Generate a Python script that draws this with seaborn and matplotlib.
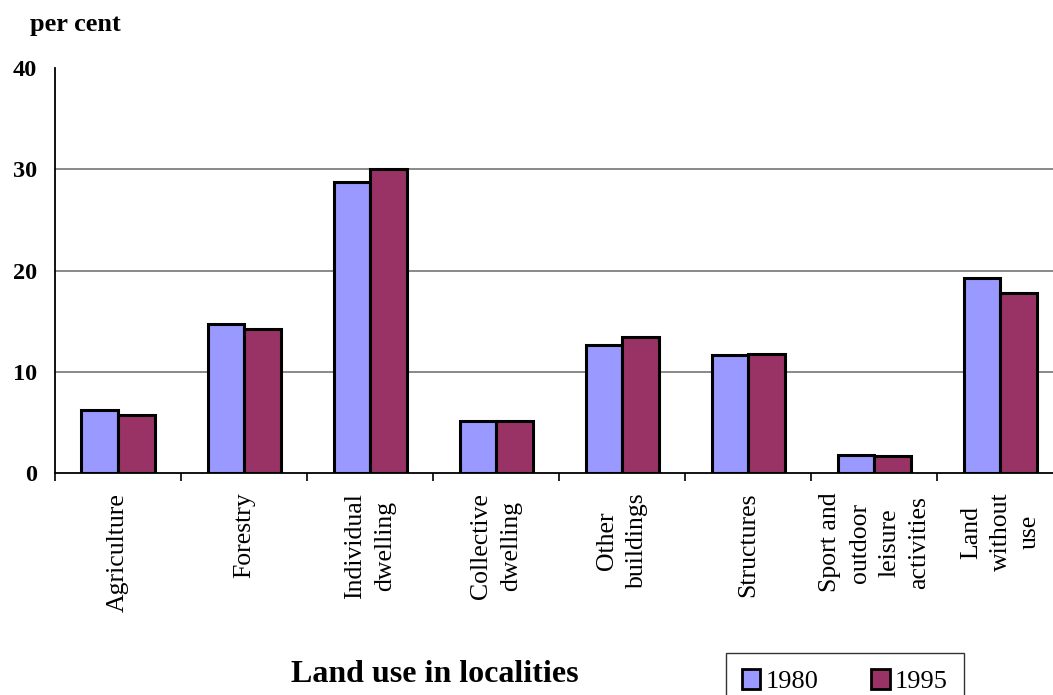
import matplotlib
matplotlib.use("Agg")
import matplotlib.pyplot as plt
import seaborn as sns
import pandas as pd

# Land use in localities, share of total area (per cent)
categories = [
    "Agriculture",
    "Forestry",
    "Individual\ndwelling",
    "Collective\ndwelling",
    "Other\nbuildings",
    "Structures",
    "Sport and\noutdoor\nleisure\nactivities",
    "Land\nwithout\nuse",
]
values_1980 = [6.2, 14.7, 28.7, 5.2, 12.7, 11.7, 1.8, 19.3]
values_1995 = [5.8, 14.2, 30.0, 5.2, 13.5, 11.8, 1.7, 17.8]
years = ["1980", "1995"]
y_ticks = [0, 10, 20, 30, 40]

df = pd.DataFrame({
    "category": categories * 2,
    "year": [years[0]] * len(categories) + [years[1]] * len(categories),
    "value": values_1980 + values_1995,
})

sns.set_theme(style="white")
plt.rcParams["font.family"] = ["Liberation Serif", "DejaVu Serif"]
plt.rcParams["text.color"] = "black"
plt.rcParams["xtick.color"] = "black"
plt.rcParams["ytick.color"] = "black"
plt.rcParams["axes.labelcolor"] = "black"

W, H = 1053, 695
fig = plt.figure(figsize=(W / 100, H / 100), dpi=100)
ax = fig.add_axes([55 / W, (H - 473.3) / H, 1008.5 / W, 405.3 / H])

palette = {"1980": "#9999FF", "1995": "#993366"}
sns.barplot(
    data=df, x="category", y="value", hue="year", order=categories,
    hue_order=years, palette=palette, edgecolor="black", linewidth=2.2,
    width=0.58, gap=0, saturation=1, ax=ax, legend=True,
)
handles, labels = ax.get_legend_handles_labels()
ax.get_legend().remove()

ax.set_xlim(-0.5, len(categories) - 0.5)
ax.set_ylim(0, 40)
ax.set_xlabel("")
ax.set_ylabel("")

# y axis: bold tick labels, grid at inner ticks only
ax.set_yticks(y_ticks)
ax.set_yticklabels([str(v) for v in y_ticks], fontsize=17.5, fontweight="bold",
                   color="black")
ax.tick_params(axis="y", length=0, pad=13)
ax.yaxis.grid(True, color="#808080", linewidth=1.3)
ax.set_axisbelow(True)
gl = ax.get_ygridlines()
gl[0].set_visible(False)
gl[-1].set_visible(False)

# x axis: rotated category labels centred, ticks between groups
ax.set_xticks(range(len(categories)))
ax.set_xticklabels(categories, rotation=90, fontsize=18.5, va="top",
                   ha="center", multialignment="center", linespacing=1.45,
                   color="black")
ax.tick_params(axis="x", which="major", length=0, pad=14)
ax.set_xticks([i - 0.5 for i in range(len(categories) + 1)], minor=True)
ax.tick_params(axis="x", which="minor", length=6, width=1.2, direction="out",
               color="black", bottom=True)

for side in ["top", "right"]:
    ax.spines[side].set_visible(False)
for side in ["left", "bottom"]:
    ax.spines[side].set_color("black")
    ax.spines[side].set_linewidth(1.3)

fig.text(30 / W, 1 - 31 / H, "per cent", fontsize=19, fontweight="bold",
         ha="left", va="baseline", color="black")
fig.text(435 / W, 1 - 682 / H, "Land use in localities", fontsize=23,
         fontweight="bold", ha="center", va="baseline", color="black")

leg = fig.legend(
    handles, labels, loc="upper left", bbox_to_anchor=(726 / W, 1 - 653 / H),
    ncol=2, frameon=True, fancybox=False, fontsize=19, handlelength=0.7,
    handleheight=0.8, handletextpad=0.2, columnspacing=2.0, borderpad=0.6,
    borderaxespad=0,
)
for txt in leg.get_texts():
    txt.set_color("black")
for h in leg.legend_handles:
    h.set_linewidth(2.0)
    h.set_edgecolor("black")
leg.get_frame().set_edgecolor("black")
leg.get_frame().set_linewidth(1.0)

fig.savefig("out.png", dpi=100)
